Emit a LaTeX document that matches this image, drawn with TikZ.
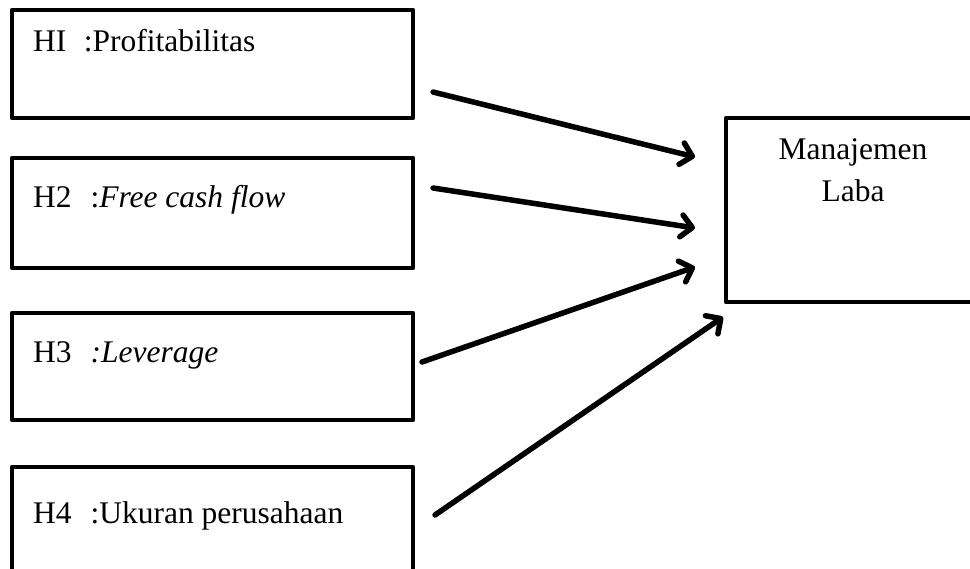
\documentclass[tikz,border=0pt]{standalone}
\usepackage{fontspec}
\setmainfont{Liberation Serif}
\usetikzlibrary{arrows.meta,calc}
\begin{document}
\begin{tikzpicture}[x=1pt,y=-1pt,
  box/.style={draw, line width=4.5pt, rectangle, inner sep=0pt, outer sep=0pt, anchor=north west, line join=round},
  lbl/.style={anchor=base west, inner sep=0pt, font=\fontsize{31.5}{42}\selectfont},
  arr/.style={line width=5.5pt, line cap=round, -{Straight Barb[length=11pt,width=22pt,line cap=round,line join=round]}}]
\useasboundingbox (0,0) rectangle (970,569);
\clip (0,0) rectangle (970,569);
% input boxes
\node[box, minimum width=401pt, minimum height=108pt] (h1) at (12,10) {};
\node[box, minimum width=401pt, minimum height=110pt] (h2) at (12,158) {};
\node[box, minimum width=401pt, minimum height=107pt] (h3) at (12,313) {};
\node[box, minimum width=401pt, minimum height=130pt] (h4) at (12,467) {};
% output box
\node[box, minimum width=260pt, minimum height=184pt] (m) at (726,118) {};
% labels
\node[lbl] (t1) at ($(h1.north west)+(21,42)$) {HI\hspace{0.55em}:Profitabilitas};
\node[lbl] (t2) at ($(h2.north west)+(21,50)$) {H2\hspace{0.6em}:\textit{Free cash flow}};
\node[lbl] (t3) at ($(h3.north west)+(21,50)$) {H3\hspace{0.6em}\textit{:Leverage}};
\node[lbl] (t4) at ($(h4.north west)+(21,56)$) {H4\hspace{0.6em}:Ukuran perusahaan};
\node[inner sep=0pt, align=center, anchor=north, font=\fontsize{31.5}{42}\selectfont] (mt) at (853,138.5) {Manajemen\\Laba};
% arrows
\coordinate (s1) at (433,92);  \coordinate (e1) at (695,157);
\coordinate (s2) at (433,188); \coordinate (e2) at (695,228);
\coordinate (s3) at (422,362); \coordinate (e3) at (695,267);
\coordinate (s4) at (435,515); \coordinate (e4) at (723,317);
\draw[arr] (s1) -- (e1);
\draw[arr] (s2) -- (e2);
\draw[arr] (s3) -- (e3);
\draw[arr] (s4) -- (e4);
\end{tikzpicture}
\end{document}
